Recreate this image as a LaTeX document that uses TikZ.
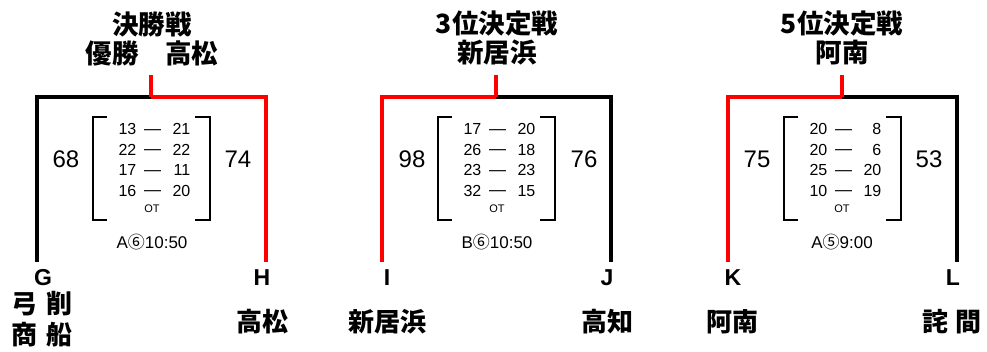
\documentclass[tikz,border=0pt]{standalone}
\usepackage{fontspec}
\setmainfont{Liberation Sans}
\newfontfamily\jp{Noto Sans CJK JP}
\tikzset{
 leg/.style={line width=4pt},
 win/.style={leg, draw=red},
 lose/.style={leg, draw=black},
 brk/.style={line width=1.4pt},
 title/.style={font=\jp\bfseries\fontsize{26.5}{28}\selectfont, inner sep=0},
 team/.style={font=\jp\bfseries\fontsize{26}{28}\selectfont, inner sep=0},
 letter/.style={font=\bfseries\fontsize{23}{26}\selectfont, inner sep=0},
 total/.style={font=\fontsize{24}{26}\selectfont, inner sep=0},
 qs/.style={font=\fontsize{16}{18}\selectfont, inner sep=0, anchor=base east},
 qd/.style={font=\fontsize{17}{18}\selectfont, inner sep=0, anchor=base},
 ot/.style={font=\fontsize{11}{12}\selectfont, inner sep=0},
 when/.style={font=\fontsize{17}{19}\selectfont, inner sep=0},
}
\newcommand\panellines[4]{%
 \coordinate (#1top) at (#2,75);
 \coordinate (#1mid) at (#2,97);
 \coordinate (#1lend) at ({#2-114},262);
 \coordinate (#1rend) at ({#2+115},262);
 \draw[#3] (#1mid) -| (#1lend);
 \draw[#4] (#1mid) -| (#1rend);
 \draw[win] (#1top) -- (#1mid);
 \draw[brk] ({#2-44},117) -| ({#2-58},220) -- ({#2-44},220);
 \draw[brk] ({#2+44},117) -| ({#2+59},220) -- ({#2+44},220);
}
\newcommand\qrow[6]{%
 \node[qs] (#1l#2) at ({#3-14.5},#4) {#5};
 \node[qd] (#1d#2) at ({#3+1.5},#4) {\raisebox{0.6pt}{—}};
 \node[qs] (#1r#2) at ({#3+39.5},#4) {#6};
}
\begin{document}
\begin{tikzpicture}[x=1pt,y=-1pt]
\useasboundingbox (0,0) rectangle (987,351);
% ---------- panel 1
\panellines{a}{151}{lose}{win}
\node[title] (a1) at (152,24) {決勝戦};
\node[title] (a2) at (152,53) {優勝　高松};
\node[letter] (ag) at (43,278) {G};
\node[letter] (ah) at (262,278) {H};
\node[team] (agt1) at (42,304) {弓\hspace{10pt}削};
\node[team] (agt2) at (42,335) {商\hspace{10pt}船};
\node[team] (aht) at (262,322) {高松};
\node[total] (als) at (66,159) {68};
\node[total] (ars) at (238,159) {74};
\qrow{a}{1}{151}{134.7}{13}{21}
\qrow{a}{2}{151}{155.3}{22}{22}
\qrow{a}{3}{151}{175.9}{17}{11}
\qrow{a}{4}{151}{196.5}{16}{20}
\node[ot] (aot) at (152,208.5) {OT};
\node[when] (aw) at (152,242) {A{\jp ⑥}10:50};
% ---------- panel 2
\panellines{b}{496}{win}{lose}
\node[title] (b1) at (497,24) {3位決定戦};
\node[title] (b2) at (497,53) {新居浜};
\node[letter] (bi) at (387,278) {I};
\node[letter] (bj) at (607,278) {J};
\node[team] (bit) at (387,322) {新居浜};
\node[team] (bjt) at (607,322) {高知};
\node[total] (bls) at (412,159) {98};
\node[total] (brs) at (584,159) {76};
\qrow{b}{1}{496}{134.7}{17}{20}
\qrow{b}{2}{496}{155.3}{26}{18}
\qrow{b}{3}{496}{175.9}{23}{23}
\qrow{b}{4}{496}{196.5}{32}{15}
\node[ot] (bot) at (497,208.5) {OT};
\node[when] (bw) at (497,242) {B{\jp ⑥}10:50};
% ---------- panel 3
\panellines{c}{842}{win}{lose}
\node[title] (c1) at (842,24) {5位決定戦};
\node[title] (c2) at (842,53) {阿南};
\node[letter] (ck) at (733,278) {K};
\node[letter] (cl) at (953,278) {L};
\node[team] (ckt) at (732,322) {阿南};
\node[team] (clt) at (952,322) {詫\hspace{7pt}間};
\node[total] (cls) at (757,159) {75};
\node[total] (crs) at (929,159) {53};
\qrow{c}{1}{842}{134.7}{20}{8}
\qrow{c}{2}{842}{155.3}{20}{6}
\qrow{c}{3}{842}{175.9}{25}{20}
\qrow{c}{4}{842}{196.5}{10}{19}
\node[ot] (cot) at (842,208.5) {OT};
\node[when] (cw) at (842,242) {A{\jp ⑤}9:00};
\end{tikzpicture}
\end{document}
